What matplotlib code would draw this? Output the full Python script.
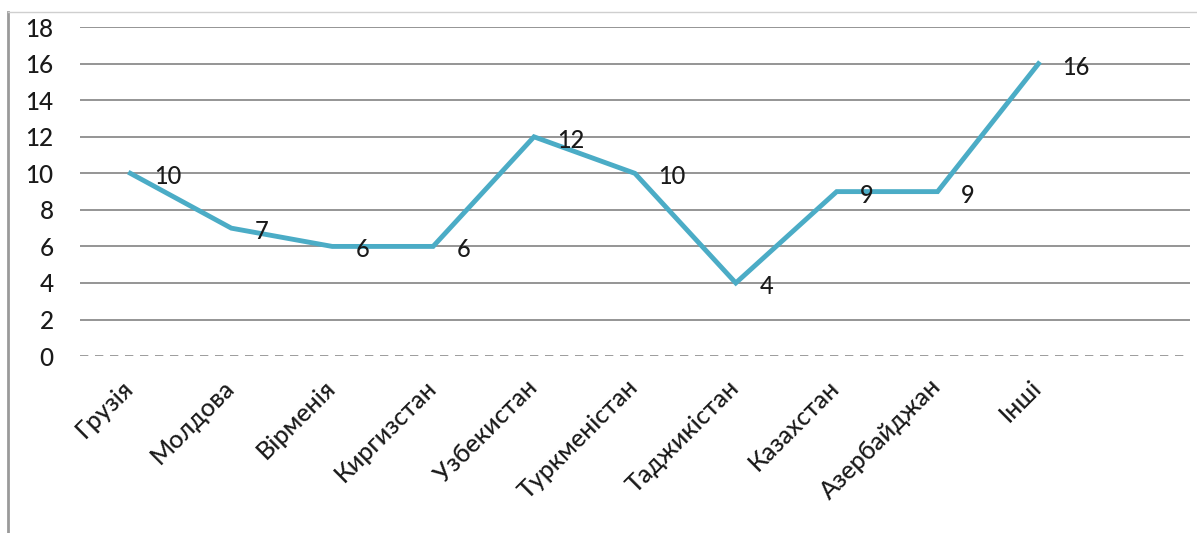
import matplotlib.pyplot as plt
from matplotlib.lines import Line2D
from matplotlib.transforms import ScaledTranslation

countries = ['Грузія', 'Молдова', 'Вірменія', 'Киргизстан', 'Узбекистан',
             'Туркменістан', 'Таджикістан', 'Казахстан', 'Азербайджан', 'Інші']
values = [10, 7, 6, 6, 12, 10, 4, 9, 9, 16]
yticks = [0, 2, 4, 6, 8, 10, 12, 14, 16, 18]

plt.rcParams['font.family'] = ['Lato', 'DejaVu Sans']
txt = '#1a1a1a'

fig = plt.figure(figsize=(11.97, 5.33), dpi=100)
ax = fig.add_axes([0.0668, 0.332, 0.9272, 0.617])

x = list(range(len(countries)))
ax.plot(x, values, color='#4BACC6', lw=3.5, solid_joinstyle='miter', zorder=3)
for xi, v in zip(x, values):
    ax.annotate(str(v), (xi, v), xytext=(17, -2.5), textcoords='offset points',
                ha='left', va='center', fontsize=17, color=txt,
                fontweight='medium', zorder=4)

ax.set_xlim(-0.5, 10.5)
ax.set_ylim(0, 18)
ax.set_yticks(yticks)
ax.set_xticks(x)
ax.set_xticklabels(countries, rotation=45, ha='right', rotation_mode='anchor',
                   fontsize=18, color=txt, fontweight='medium')
ax.tick_params(axis='x', length=0, pad=14)
ax.tick_params(axis='y', length=0, pad=19, labelsize=17.5, labelcolor=txt)
for lab in ax.get_yticklabels():
    lab.set_fontweight('medium')

# shift the rotated category labels a little to the left
shift = ScaledTranslation(-9 / 100, 0, fig.dpi_scale_trans)
for lab in ax.get_xticklabels():
    lab.set_transform(lab.get_transform() + shift)

for t in yticks[1:]:
    ax.axhline(t, color='#8c8c8c', lw=1.3, zorder=1)
ax.axhline(0, color='#8c8c8c', lw=1.2, ls=(0, (5, 4)), zorder=1)

for s in ax.spines.values():
    s.set_visible(False)

# outer chart frame
fig.add_artist(Line2D([0.0067, 0.0067], [0.0, 0.978], color='#9a9a9a', lw=2))
fig.add_artist(Line2D([0.0067, 1.0], [0.978, 0.978], color='#cfcfcf', lw=1))

fig.savefig('out.png', dpi=100)
